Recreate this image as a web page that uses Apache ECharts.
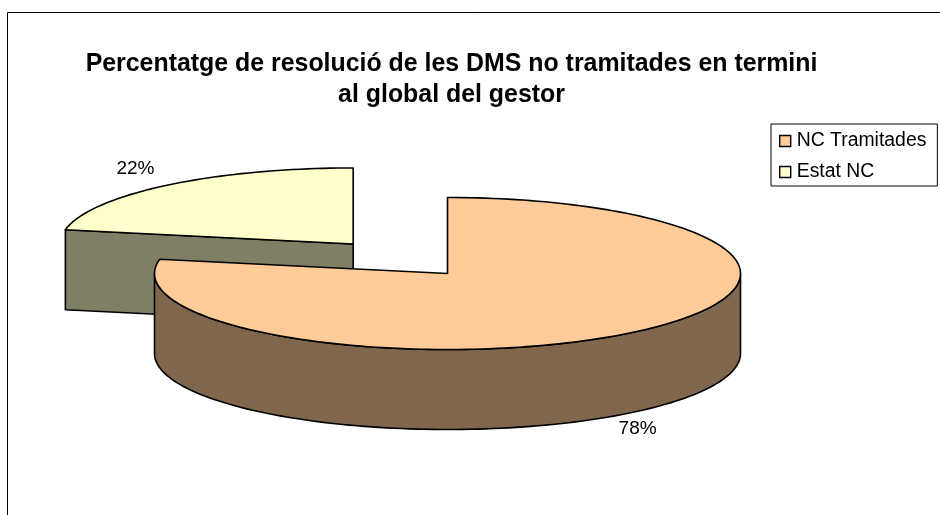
<!DOCTYPE html>
<html>
<head>
<meta charset="utf-8">
<style>html,body{margin:0;padding:0;background:#fff}#c{width:940px;height:515px}</style>
<script src="https://cdn.jsdelivr.net/npm/echarts@6/dist/echarts.min.js"></script>
</head>
<body>
<div id="c"></div>
<script>
var titleText = 'Percentatge de resolució de les DMS no tramitades en termini\nal global del gestor';
var categories = ['NC Tramitades', 'Estat NC'];
var values = [78, 22];
var labels = ['78%', '22%'];
var exploded = [0, 0.505];
var topColors = ['#FFCC99', '#FFFFCC'];
var sideColors = ['#7F664D', '#7F7F66'];
var labelReachX = [1.018, 1.166];

var PIE = { cx: 447.5, cy: 273.5, rx: 293, ry: 76, depth: 80, line: 1.6 };
var total = values.reduce(function (a, b) { return a + b; }, 0);

function rad(d) { return d * Math.PI / 180; }
function pt(c, deg, k, dy) {
  return [c[0] + PIE.rx * k * Math.sin(rad(deg)), c[1] - PIE.ry * k * Math.cos(rad(deg)) + (dy || 0)];
}
function arc(c, a, b, dy) {
  var out = [], n = Math.max(2, Math.ceil(Math.abs(b - a) / 1.5));
  for (var i = 0; i <= n; i++) out.push(pt(c, a + (b - a) * i / n, 1, dy));
  return out;
}
function renderSlice(idx) {
  return function (params, api) {
    var before = 0;
    for (var i = 0; i < idx; i++) before += values[i];
    var a0 = before / total * 360;
    var a1 = a0 + api.value(0) / total * 360;
    var mid = (a0 + a1) / 2;
    var c = [
      PIE.cx + exploded[idx] * PIE.rx * Math.sin(rad(mid)),
      PIE.cy - exploded[idx] * PIE.ry * Math.cos(rad(mid))
    ];
    var stroke = { stroke: '#000', lineWidth: PIE.line, lineJoin: 'round' };
    function poly(points, fill) {
      return { type: 'polygon', shape: { points: points }, style: Object.assign({ fill: fill }, stroke) };
    }
    var kids = [];
    var side = sideColors[idx];
    [a0, a1].forEach(function (e, j) {
      var s = Math.sin(rad(e));
      if ((j === 0 && s < -1e-6) || (j === 1 && s > 1e-6)) {
        var p = pt(c, e, 1);
        kids.push(poly([c, p, [p[0], p[1] + PIE.depth], [c[0], c[1] + PIE.depth]], side));
      }
    });
    var w0 = Math.max(a0, 90), w1 = Math.min(a1, 270);
    if (w1 > w0) {
      kids.push(poly(arc(c, w0, w1, 0).concat(arc(c, w1, w0, PIE.depth)), side));
    }
    kids.push(poly([c].concat(arc(c, a0, a1, 0)), topColors[idx]));
    var lp = [
      c[0] + PIE.rx * labelReachX[idx] * Math.sin(rad(mid)),
      c[1] - PIE.ry * 1.29 * Math.cos(rad(mid)) + (Math.cos(rad(mid)) < 0 ? PIE.depth : 0)
    ];
    kids.push({
      type: 'text', x: lp[0], y: lp[1],
      style: { text: labels[idx], fill: '#000', font: '19px "Liberation Sans", Arial, sans-serif', align: 'center', verticalAlign: 'middle' }
    });
    return { type: 'group', children: kids };
  };
}

var series = categories.map(function (name, i) {
  return {
    name: name, type: 'custom', coordinateSystem: 'none',
    z: i === 1 ? 2 : 3, silent: true, animation: false,
    itemStyle: { color: topColors[i] },
    data: [[values[i]]],
    renderItem: renderSlice(i)
  };
});

var chart = echarts.init(document.getElementById('c'), null, { renderer: 'canvas' });
chart.setOption({
  animation: false,
  backgroundColor: '#fff',
  graphic: [{
    type: 'rect', z: 0, silent: true,
    shape: { x: 7.5, y: 12.5, width: 960, height: 540 },
    style: { fill: '#fff', stroke: '#000', lineWidth: 1 }
  }],
  title: {
    text: titleText, left: 446.5, top: 44, textAlign: 'center',
    textStyle: { fontFamily: '"Liberation Sans", Arial, sans-serif', fontSize: 24.9, fontWeight: 'bold', color: '#000', lineHeight: 31 }
  },
  legend: {
    left: 771, top: 124, orient: 'vertical', padding: [6, 11, 3, 8],
    data: categories, icon: 'rect', itemWidth: 11, itemHeight: 11, itemGap: 9,
    backgroundColor: '#fff', borderColor: '#000', borderWidth: 1,
    selectedMode: false,
    itemStyle: { borderColor: '#000', borderWidth: 1.4 },
    textStyle: { fontFamily: '"Liberation Sans", Arial, sans-serif', fontSize: 19.4, color: '#000', lineHeight: 22, padding: [0, 0, 0, 1] }
  },
  series: series
});
</script>
</body>
</html>
